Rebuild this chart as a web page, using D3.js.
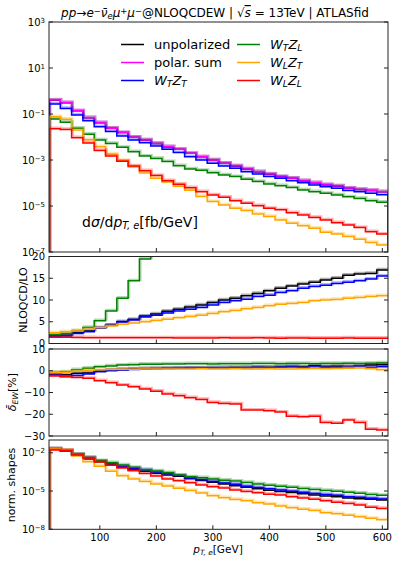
<!DOCTYPE html>
<html>
<head>
<meta charset="utf-8">
<script src="https://cdn.jsdelivr.net/npm/d3@7/dist/d3.min.js"></script>
<style>
body { margin: 0; background: #fff; }
text { font-family: "DejaVu Sans", sans-serif; fill: #000; }
</style>
</head>
<body>
<div id="chart"></div>
<script>
// bin edges in p_T,e [GeV], 20 GeV bins
var binEdges = [10, 30, 50, 70, 90, 110, 130, 150, 170, 190, 210, 230, 250, 270, 290, 310,
  330, 350, 370, 390, 410, 430, 450, 470, 490, 510, 530, 550, 570, 590, 610];

// d sigma / d pT,e  [fb/GeV]
var xsUnpol = [4.0e-1, 3.1e-1, 1.37e-1, 6.9e-2, 4.2e-2, 2.4e-2, 1.55e-2, 9.7e-3, 7.4e-3, 5.2e-3, 3.8e-3, 2.9e-3, 1.95e-3, 1.37e-3, 1.0e-3,
  7.2e-4, 5.5e-4, 4.1e-4, 3.1e-4, 2.4e-4, 1.9e-4, 1.6e-4, 1.25e-4, 1.02e-4, 8.4e-5, 7.4e-5, 5.9e-5, 5.2e-5, 4.7e-5, 4.2e-5];
var xsPolSum = [4.07e-1, 3.1e-1, 1.38e-1, 6.9e-2, 4.2e-2, 2.4e-2, 1.55e-2, 9.8e-3, 7.4e-3, 5.2e-3, 3.8e-3, 2.95e-3, 1.95e-3, 1.38e-3, 1.0e-3,
  7.2e-4, 5.5e-4, 4.1e-4, 3.1e-4, 2.45e-4, 1.9e-4, 1.6e-4, 1.26e-4, 1.02e-4, 8.5e-5, 7.4e-5, 5.9e-5, 5.2e-5, 4.7e-5, 4.2e-5];
var xsTT = [2.7e-1, 1.74e-1, 9.1e-2, 5.1e-2, 2.82e-2, 1.74e-2, 1.1e-2, 7.4e-3, 5.6e-3, 4.1e-3, 2.95e-3, 2.1e-3, 1.38e-3, 1.0e-3, 7.2e-4,
  5.5e-4, 4.4e-4, 3.1e-4, 2.45e-4, 1.9e-4, 1.6e-4, 1.26e-4, 1.02e-4, 8.1e-5, 6.9e-5, 5.9e-5, 4.7e-5, 4.2e-5, 3.55e-5, 3.1e-5];
var xsTL = [6.0e-2, 4.4e-2, 2.4e-2, 1.32e-2, 7.4e-3, 5.2e-3, 3.55e-3, 2.3e-3, 1.48e-3, 1.17e-3, 8.5e-4, 5.6e-4, 4.1e-4, 3.55e-4, 2.8e-4,
  2.25e-4, 1.9e-4, 1.45e-4, 1.15e-4, 9.1e-5, 7.6e-5, 6.3e-5, 5.0e-5, 4.2e-5, 3.55e-5, 3.0e-5, 2.5e-5, 2.14e-5, 1.7e-5, 1.45e-5];
var xsLT = [7.6e-2, 5.9e-2, 2.0e-2, 7.6e-3, 3.8e-3, 1.82e-3, 9.5e-4, 5.0e-4, 2.75e-4, 1.6e-4, 1.1e-4, 7.2e-5, 4.8e-5, 2.6e-5, 1.55e-5,
  1.1e-5, 7.9e-6, 6.3e-6, 4.47e-6, 3.5e-6, 2.45e-6, 1.78e-6, 1.38e-6, 1.07e-6, 7.2e-7, 6.0e-7, 4.7e-7, 3.55e-7, 2.6e-7, 2.0e-7];
var xsLL = [2.3e-2, 2.14e-2, 9.3e-3, 5.5e-3, 2.6e-3, 1.48e-3, 8.9e-4, 5.5e-4, 3.4e-4, 2.1e-4, 1.26e-4, 8.9e-5, 6.2e-5, 4.2e-5, 3.0e-5,
  2.4e-5, 1.7e-5, 1.32e-5, 1.02e-5, 7.9e-6, 6.8e-6, 5.1e-6, 4.1e-6, 3.2e-6, 2.45e-6, 1.86e-6, 1.48e-6, 1.15e-6, 7.6e-7, 6.0e-7];

// NLOQCD / LO  (WTZL leaves the frame after 190 GeV)
var kUnpol = [1.8, 1.9, 2.5, 2.9, 3.6, 4.2, 5.0, 5.5, 6.3, 6.8, 7.4, 7.9, 8.4, 8.85, 9.4, 10.0, 10.4, 11.0, 11.5, 12.1,
  12.7, 13.2, 13.7, 14.1, 14.6, 15.0, 15.7, 16.0, 16.1, 16.9];
var kTT = [1.6, 1.7, 2.3, 2.7, 3.5, 4.2, 4.9, 5.4, 6.1, 6.5, 7.0, 7.5, 7.9, 8.3, 8.85, 9.4, 9.8, 10.2, 10.8, 11.1,
  11.7, 12.1, 12.7, 13.1, 13.4, 13.8, 14.1, 14.4, 14.8, 15.5];
var kTL = [2.0, 2.3, 2.9, 3.7, 5.25, 7.5, 10.4, 14.4, 19.4, 25, null, null, null, null, null, null, null, null, null, null,
  null, null, null, null, null, null, null, null, null, null];
var kLT = [2.5, 2.7, 2.9, 3.3, 3.6, 4.0, 4.4, 4.7, 5.0, 5.3, 5.6, 5.9, 6.2, 6.5, 6.9, 7.3, 7.6, 8.0, 8.3, 8.7,
  9.0, 9.2, 9.4, 9.8, 10.0, 10.1, 10.4, 10.6, 10.8, 11.0];
var kLL = [1.45, 1.45, 1.4, 1.35, 1.3, 1.3, 1.3, 1.3, 1.3, 1.3, 1.3, 1.25, 1.25, 1.25, 1.25, 1.3, 1.25, 1.25, 1.3, 1.25,
  1.2, 1.25, 1.25, 1.2, 1.2, 1.2, 1.25, 1.2, 1.2, 1.2];

// delta_EW [%]
var ewUnpol = [-1.6, -1.8, -1.2, -1.0, -0.2, 0.3, 0.6, 0.8, 0.9, 1.0, 1.1, 1.2, 1.3, 1.3, 1.4, 1.4, 1.5, 1.5, 1.6, 1.6,
  1.7, 2.0, 1.8, 2.3, 1.9, 2.1, 2.0, 2.2, 2.6, 2.8];
var ewTT = [-2.0, -2.6, -2.2, -1.5, -0.5, 0.0, 0.4, 0.6, 0.8, 0.9, 1.0, 1.1, 1.2, 1.2, 1.3, 1.4, 1.3, 1.4, 1.5, 1.4,
  1.6, 1.7, 1.5, 1.8, 1.6, 1.5, 1.7, 1.9, 1.6, 1.8];
var ewTL = [-0.8, -0.5, 0.5, 1.2, 1.8, 2.2, 2.6, 2.8, 3.0, 3.0, 3.1, 3.1, 3.2, 3.2, 3.1, 3.2, 3.2, 3.2, 3.3, 3.3,
  3.2, 3.3, 3.3, 3.2, 3.3, 3.3, 3.4, 3.3, 3.5, 3.6];
var ewLT = [-0.9, -0.7, -0.2, 0.2, 0.5, 0.6, 0.7, 0.7, 0.8, 0.8, 0.8, 0.8, 0.8, 0.9, 0.8, 0.8, 0.9, 0.8, 0.8, 0.9,
  0.8, 0.8, 0.9, 1.0, 0.9, 1.0, 1.2, 1.3, 0.9, 0.5];
var ewLL = [-2.4, -2.8, -3.1, -3.5, -4.6, -5.5, -6.6, -7.4, -8.4, -9.4, -10.7, -11.5, -12.4, -13.2, -14.6, -15.0, -15.3, -18.1, -18.1, -18.4,
  -19.0, -20.9, -21.2, -20.9, -23.8, -24.1, -22.7, -23.8, -26.9, -27.2];

// normalised shapes [1/GeV]
var shUnpol = [1.95e-2, 1.48e-2, 6.6e-3, 3.3e-3, 2.0e-3, 1.15e-3, 7.4e-4, 4.7e-4, 3.55e-4, 2.5e-4, 1.82e-4, 1.41e-4, 9.3e-5, 6.6e-5, 4.8e-5,
  3.5e-5, 2.6e-5, 1.95e-5, 1.48e-5, 1.17e-5, 9.1e-6, 7.6e-6, 6.0e-6, 4.9e-6, 4.1e-6, 3.55e-6, 2.8e-6, 2.5e-6, 2.24e-6, 2.0e-6];
var shTT = [2.1e-2, 1.35e-2, 7.1e-3, 4.0e-3, 2.2e-3, 1.35e-3, 8.5e-4, 5.75e-4, 4.4e-4, 3.16e-4, 2.3e-4, 1.62e-4, 1.07e-4, 7.8e-5, 5.6e-5,
  4.3e-5, 3.4e-5, 2.4e-5, 1.9e-5, 1.48e-5, 1.23e-5, 9.8e-6, 7.9e-6, 6.3e-6, 5.4e-6, 4.6e-6, 3.6e-6, 3.2e-6, 2.75e-6, 2.4e-6];
var shTL = [1.9e-2, 1.38e-2, 7.6e-3, 4.2e-3, 2.34e-3, 1.66e-3, 1.12e-3, 7.2e-4, 4.7e-4, 3.7e-4, 2.7e-4, 1.78e-4, 1.29e-4, 1.12e-4, 8.9e-5,
  7.1e-5, 6.0e-5, 4.6e-5, 3.6e-5, 2.9e-5, 2.4e-5, 2.0e-5, 1.58e-5, 1.32e-5, 1.12e-5, 9.5e-6, 7.9e-6, 6.8e-6, 5.4e-6, 4.6e-6];
var shLT = [2.1e-2, 1.62e-2, 5.5e-3, 2.0e-3, 8.9e-4, 3.55e-4, 1.58e-4, 8.9e-5, 5.6e-5, 3.55e-5, 2.5e-5, 1.66e-5, 1.12e-5, 6.9e-6, 4.3e-6,
  3.0e-6, 2.2e-6, 1.74e-6, 1.23e-6, 9.5e-7, 6.8e-7, 4.9e-7, 3.8e-7, 2.95e-7, 2.0e-7, 1.66e-7, 1.29e-7, 9.8e-8, 7.2e-8, 5.5e-8];
var shLL = [1.62e-2, 1.51e-2, 6.6e-3, 3.9e-3, 1.86e-3, 1.05e-3, 6.3e-4, 3.9e-4, 2.4e-4, 1.48e-4, 8.9e-5, 6.3e-5, 4.4e-5, 2.95e-5, 2.14e-5,
  1.7e-5, 1.2e-5, 9.3e-6, 7.2e-6, 5.6e-6, 4.8e-6, 3.6e-6, 2.9e-6, 2.3e-6, 1.74e-6, 1.32e-6, 1.05e-6, 8.1e-7, 5.4e-7, 4.3e-7];

var xTicks = [100, 200, 300, 400, 500, 600];

var col = {unpol: "#000000", pol: "#ff00ff", TT: "#0000ff", TL: "#008000", LT: "#ffa500", LL: "#ff0000"};

var svg = d3.select("#chart").append("svg")
  .attr("width", 399)
  .attr("height", 565);

var x = d3.scaleLinear().domain([10, 610]).range([49, 388]);

// mathtext-like text from pieces
function rich(sel, parts) {
  parts.forEach(function(p) {
    var t = sel.append("tspan").text(p.t);
    if (p.i) t.attr("font-style", "italic");
    if (p.sup) t.attr("baseline-shift", "38%").attr("font-size", "0.7em");
    if (p.sub) t.attr("baseline-shift", "-22%").attr("font-size", "0.7em");
    if (p.o) t.style("text-decoration", "overline");
  });
  return sel;
}

var clipId = 0;
function panel(top, bottom, y, ticks, logAxis, series, showX) {
  var g = svg.append("g");
  var id = "clip" + (clipId++);
  svg.append("clipPath").attr("id", id).append("rect")
    .attr("x", x.range()[0]).attr("y", top)
    .attr("width", x.range()[1] - x.range()[0]).attr("height", bottom - top);

  var plot = g.append("g").attr("clip-path", "url(#" + id + ")");
  series.forEach(function(s) {
    var pts = binEdges.map(function(e, i) {
      var v = s.v[Math.min(i, s.v.length - 1)];
      return [x(e), v == null ? null : y(v)];
    });
    if (logAxis) {
      pts.unshift([x(binEdges[0]), bottom + 2]);
      pts.push([x(binEdges[binEdges.length - 1]), bottom + 2]);
    }
    var line = d3.line()
      .defined(function(d) { return d[1] != null; })
      .curve(d3.curveStepAfter);
    // light band (scale variation)
    plot.append("path")
      .attr("d", line(pts))
      .attr("fill", "none")
      .attr("stroke", s.c)
      .attr("stroke-opacity", 0.3)
      .attr("stroke-width", 2.4)
      .attr("transform", "translate(1,-1)");
    plot.append("path")
      .attr("d", line(pts))
      .attr("fill", "none")
      .attr("stroke", s.c)
      .attr("stroke-width", 1.5);
  });

  // frame
  g.append("rect")
    .attr("x", x.range()[0]).attr("y", top)
    .attr("width", x.range()[1] - x.range()[0]).attr("height", bottom - top)
    .attr("fill", "none").attr("stroke", "#222").attr("stroke-width", 1);

  // x ticks (inward)
  xTicks.forEach(function(t) {
    g.append("line").attr("x1", x(t)).attr("x2", x(t))
      .attr("y1", bottom).attr("y2", bottom - 4)
      .attr("stroke", "#222");
    if (showX) {
      g.append("text").attr("x", x(t)).attr("y", bottom + 12)
        .attr("text-anchor", "middle").attr("font-size", 10).text(t);
    }
  });

  // y ticks both sides, inward
  ticks.forEach(function(t) {
    var yy = y(t);
    g.append("line").attr("x1", x.range()[0]).attr("x2", x.range()[0] + 4)
      .attr("y1", yy).attr("y2", yy).attr("stroke", "#222");
    g.append("line").attr("x1", x.range()[1]).attr("x2", x.range()[1] - 4)
      .attr("y1", yy).attr("y2", yy).attr("stroke", "#222");
    var lab = g.append("text").attr("x", 45).attr("y", yy + 3.5)
      .attr("text-anchor", "end").attr("font-size", 10);
    if (logAxis) {
      var e = Math.round(Math.log10(t));
      rich(lab, [{t: "10"}, {t: (e < 0 ? "\u2212" : "") + Math.abs(e), sup: true}]);
    } else {
      lab.text(t < 0 ? "\u2212" + Math.abs(t) : t);
    }
  });
  return g;
}

// main panel
var y1 = d3.scaleLog().domain([1e-7, 1e3]).range([252, 22]);
panel(22, 252, y1, [1e3, 1e1, 1e-1, 1e-3, 1e-5, 1e-7], true, [
  {v: xsUnpol, c: col.unpol}, {v: xsPolSum, c: col.pol}, {v: xsTT, c: col.TT},
  {v: xsTL, c: col.TL}, {v: xsLT, c: col.LT}, {v: xsLL, c: col.LL}
], false);

// NLOQCD/LO
var y2 = d3.scaleLinear().domain([0, 20]).range([343.5, 256.5]);
panel(256.5, 343.5, y2, [0, 5, 10, 15, 20], false, [
  {v: kUnpol, c: col.unpol}, {v: kTT, c: col.TT}, {v: kTL, c: col.TL},
  {v: kLT, c: col.LT}, {v: kLL, c: col.LL}
], false);

// delta EW
var y3 = d3.scaleLinear().domain([-30, 10]).range([436, 349]);
panel(349, 436, y3, [10, 0, -10, -20, -30], false, [
  {v: ewUnpol, c: col.unpol}, {v: ewTT, c: col.TT}, {v: ewTL, c: col.TL},
  {v: ewLT, c: col.LT}, {v: ewLL, c: col.LL}
], false);

// normalised shapes
var y4 = d3.scaleLog().domain([1e-8, 1e-1]).range([529.3, 440]);
panel(440, 529.3, y4, [1e-2, 1e-5, 1e-8], true, [
  {v: shUnpol, c: col.unpol}, {v: shTT, c: col.TT}, {v: shTL, c: col.TL},
  {v: shLT, c: col.LT}, {v: shLL, c: col.LL}
], true);

// title
rich(svg.append("text").attr("x", 215).attr("y", 17).attr("text-anchor", "middle").attr("font-size", 12), [
  {t: "pp", i: true}, {t: "\u2192"}, {t: "e", i: true}, {t: "\u2212", sup: true},
  {t: "\u03bd\u0304", i: true}, {t: "e", i: true, sub: true},
  {t: "\u03bc", i: true}, {t: "+", sup: true}, {t: "\u03bc", i: true}, {t: "\u2212", sup: true},
  {t: "@NLOQCDEW | \u221a"}, {t: "s", i: true, o: true}, {t: " = 13TeV | ATLASfid"}
]);

// legend
var legend = [
  {lab: [{t: "unpolarized"}], c: col.unpol, cx: 0, r: 0},
  {lab: [{t: "polar. sum"}], c: col.pol, cx: 0, r: 1},
  {lab: [{t: "W", i: true}, {t: "T", i: true, sub: true}, {t: "Z", i: true}, {t: "T", i: true, sub: true}], c: col.TT, cx: 0, r: 2},
  {lab: [{t: "W", i: true}, {t: "T", i: true, sub: true}, {t: "Z", i: true}, {t: "L", i: true, sub: true}], c: col.TL, cx: 1, r: 0},
  {lab: [{t: "W", i: true}, {t: "L", i: true, sub: true}, {t: "Z", i: true}, {t: "T", i: true, sub: true}], c: col.LT, cx: 1, r: 1},
  {lab: [{t: "W", i: true}, {t: "L", i: true, sub: true}, {t: "Z", i: true}, {t: "L", i: true, sub: true}], c: col.LL, cx: 1, r: 2}
];
var legG = svg.append("g");
legend.forEach(function(d) {
  var lx = d.cx === 0 ? 121 : 237;
  var ly = 44.5 + d.r * 18;
  legG.append("line").attr("x1", lx).attr("x2", lx + 23).attr("y1", ly).attr("y2", ly)
    .attr("stroke", d.c).attr("stroke-width", 1.5);
  rich(legG.append("text").attr("x", lx + 33).attr("y", ly + 4.5).attr("font-size", 13), d.lab);
});

// in-plot label
rich(svg.append("text").attr("x", 82).attr("y", 227).attr("font-size", 14), [
  {t: "d"}, {t: "\u03c3", i: true}, {t: "/d"}, {t: "p", i: true}, {t: "T, e", i: true, sub: true}, {t: "[fb/GeV]"}
]);

// axis labels
function ylab(xp, yp, parts) {
  rich(svg.append("text").attr("transform", "translate(" + xp + "," + yp + ") rotate(-90)")
    .attr("text-anchor", "middle").attr("font-size", 11), parts);
}
ylab(27, 300, [{t: "NLOQCD/LO"}]);
ylab(16, 392, [{t: "\u03b4\u0304", i: true}, {t: "EW", i: true, sub: true}, {t: "[%]"}]);
ylab(15, 485, [{t: "norm. shapes"}]);

rich(svg.append("text").attr("x", 218).attr("y", 553).attr("text-anchor", "middle").attr("font-size", 10.5), [
  {t: "p", i: true}, {t: "T, e", i: true, sub: true}, {t: "[GeV]"}
]);
</script>
</body>
</html>
